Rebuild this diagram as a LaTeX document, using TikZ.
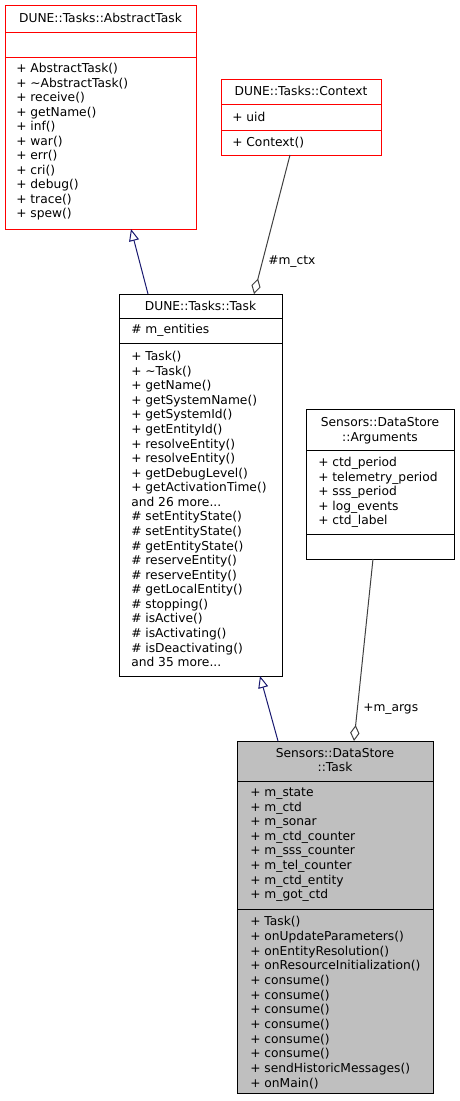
\documentclass[tikz,border=0pt]{standalone}
\usepackage{fontspec}
\setmainfont{DejaVu Sans}
\usetikzlibrary{arrows.meta,fit}

\definecolor{edgenavy}{HTML}{191970}
\definecolor{edgegray}{HTML}{404040}
\definecolor{boxgray}{HTML}{BFBFBF}

\tikzset{
  umlbox/.style={draw=black, line width=0.75pt, inner sep=0pt, outer sep=0pt},
  sep/.style={line width=0.75pt},
  member/.style={anchor=west, inner sep=0pt, text height=0.8em, text depth=0.1em,
    font=\fontsize{9.2}{11}\selectfont},
  title/.style={member, anchor=center},
  inherit/.style={draw=edgenavy, line width=0.75pt,
    -{Triangle[open, length=9pt, width=7.5pt]}},
  aggr/.style={draw=edgegray, line width=0.75pt,
    {Diamond[open, length=12pt, width=7pt]}-}
}
\newcommand{\moredots}{.\kern0pt.\kern0pt.}

\begin{document}
\begin{tikzpicture}[x=0.75pt, y=-0.75pt]
\useasboundingbox (0,0) rectangle (460,1101);

% DUNE::Tasks::AbstractTask
\node[umlbox, draw=red, fit={(5,5) (196,229)}] (abs) {};
\draw[sep, red] (abs.west |- 0,32) -- (abs.east |- 0,32);
\draw[sep, red] (abs.west |- 0,57) -- (abs.east |- 0,57);
\node[title] (abs-t) at (100.5,18) {DUNE::Tasks::AbstractTask};
\foreach \t [count=\i from 0] in {+ AbstractTask(), + \textasciitilde AbstractTask(),
    + receive(), + getName(), + inf(), + war(), + err(), + cri(), + debug(),
    + trace(), + spew()}
  \node[member] (abs-m\i) at (16,{68+14.5*\i}) {\t};

% DUNE::Tasks::Context
\node[umlbox, draw=red, fit={(221,79) (381,155)}] (ctx) {};
\draw[sep, red] (ctx.west |- 0,104) -- (ctx.east |- 0,104);
\draw[sep, red] (ctx.west |- 0,130) -- (ctx.east |- 0,130);
\node[title] (ctx-t) at (301,91) {DUNE::Tasks::Context};
\node[member] (ctx-a) at (232,117) {+ uid};
\node[member] (ctx-m) at (232,142) {+ Context()};

% DUNE::Tasks::Task
\node[umlbox, fit={(119,294) (282,676)}] (task) {};
\draw[sep] (task.west |- 0,318) -- (task.east |- 0,318);
\draw[sep] (task.west |- 0,343) -- (task.east |- 0,343);
\node[title] (task-t) at (200.5,306) {DUNE::Tasks::Task};
\node[member] (task-a) at (131,329) {\# m\_entities};
\foreach \t [count=\i from 0] in {+ Task(), + \textasciitilde Task(), + getName(),
    + getSystemName(), + getSystemId(), + getEntityId(), + resolveEntity(),
    + resolveEntity(), + getDebugLevel(), + getActivationTime(), and 26 more\moredots,
    \# setEntityState(), \# setEntityState(), \# getEntityState(),
    \# reserveEntity(), \# reserveEntity(), \# getLocalEntity(), \# stopping(),
    \# isActive(), \# isActivating(), \# isDeactivating(), and 35 more\moredots}
  \node[member] (task-m\i) at (131,{356+14.57*\i}) {\t};

% Sensors::DataStore::Arguments
\node[umlbox, fit={(306,409) (454,559)}] (args) {};
\draw[sep] (args.west |- 0,450) -- (args.east |- 0,450);
\draw[sep] (args.west |- 0,534) -- (args.east |- 0,534);
\node[title] (args-t1) at (380,422) {Sensors::DataStore};
\node[title] (args-t2) at (380,437) {::Arguments};
\foreach \t [count=\i from 0] in {+ ctd\_period, + telemetry\_period,
    + sss\_period, + log\_events, + ctd\_label}
  \node[member] (args-a\i) at (318,{462+14.5*\i}) {\t};

% Sensors::DataStore::Task
\node[umlbox, fill=boxgray, fit={(237,741) (433,1093)}] (ds) {};
\draw[sep] (ds.west |- 0,781) -- (ds.east |- 0,781);
\draw[sep] (ds.west |- 0,909) -- (ds.east |- 0,909);
\node[title] (ds-t1) at (335,753) {Sensors::DataStore};
\node[title] (ds-t2) at (335,767) {::Task};
\foreach \t [count=\i from 0] in {+ m\_state, + m\_ctd, + m\_sonar,
    + m\_ctd\_counter, + m\_sss\_counter, + m\_tel\_counter, + m\_ctd\_entity,
    + m\_got\_ctd}
  \node[member] (ds-a\i) at (250,{792+14.57*\i}) {\t};
\foreach \t [count=\i from 0] in {+ Task(), + onUpdateParameters(),
    + onEntityResolution(), + onResourceInitialization(), + consume(),
    + consume(), + consume(), + consume(), + consume(), + consume(),
    + sendHistoricMessages(), + onMain()}
  \node[member] (ds-m\i) at (250,{921+14.7*\i}) {\t};

% connectors
\draw[inherit] (148,0 |- task.north) -- (131,0 |- abs.south);
\draw[inherit] (278,0 |- ds.north) -- (260,0 |- task.south);
\draw[aggr] (254,0 |- task.north) -- (290,0 |- ctx.south);
\draw[aggr] (354,0 |- ds.north) -- (373,0 |- args.south);
\node[member] (ctx-lbl) at (268,260) {\#m\_ctx};
\node[member] (args-lbl) at (363,707) {+m\_args};
\end{tikzpicture}
\end{document}
